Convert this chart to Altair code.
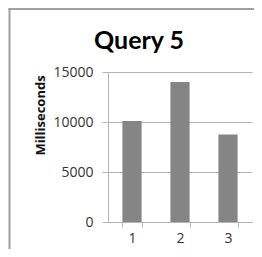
import altair as alt
import pandas as pd

categories = ["1", "2", "3"]
values = [10100, 14000, 8750]
y_ticks = [0, 5000, 10000, 15000]
chart_title = "Query 5"

df = pd.DataFrame({"query": categories, "ms": values})
one = pd.DataFrame({"label": [chart_title]})

GRID = "#b4b4b4"
TEXT = "#333333"
LABEL_FONT = "Open Sans"

bars = alt.Chart(df).mark_bar(color="#858585").encode(
    x=alt.X(
        "query:N",
        sort=categories,
        scale=alt.Scale(paddingInner=0.6, paddingOuter=0.3),
        axis=alt.Axis(
            title=None, labelAngle=0, tickBand="extent", tickSize=5,
            labelPadding=4, domainColor=GRID, tickColor=GRID,
            labelFont=LABEL_FONT, labelFontSize=14, labelColor=TEXT,
        ),
    ),
    y=alt.Y(
        "ms:Q",
        scale=alt.Scale(domain=[0, 15000], nice=False),
        axis=alt.Axis(
            values=y_ticks, format="d", title="Milliseconds",
            titleFont=LABEL_FONT, titleFontSize=13, titleFontWeight="bold",
            titleColor="#111111", titleAngle=270, titleX=-68, titleY=43,
            titleAlign="center", titleBaseline="middle",
            grid=True, gridColor=GRID, domainColor=GRID, tickColor=GRID,
            tickSize=6, labelPadding=9, labelFont=LABEL_FONT,
            labelFontSize=14, labelColor=TEXT,
        ),
    ),
)

left_border = alt.Chart(one).mark_rule(color="#a0a0a0", strokeWidth=2).encode(
    x=alt.value(-98.5), y=alt.value(-64), y2=alt.value(200)
)
top_border = alt.Chart(one).mark_rule(color="#a0a0a0", strokeWidth=2).encode(
    y=alt.value(-63), x=alt.value(-99.5), x2=alt.value(200)
)
title_text = alt.Chart(one).mark_text(
    font="Lato", fontSize=25, fontWeight="bold", color="#000000",
    align="center", baseline="alphabetic",
).encode(text="label:N", x=alt.value(31), y=alt.value(-23))

chart = (
    alt.layer(bars, left_border, top_border, title_text)
    .properties(
        width=144,
        height=150,
        padding={"left": 100, "top": 64, "right": 2, "bottom": 27},
        autosize=alt.AutoSizeParams(type="none"),
    )
    .configure_view(stroke="transparent")
)

chart.save("out.html", embed_options={"renderer": "svg", "actions": False})
